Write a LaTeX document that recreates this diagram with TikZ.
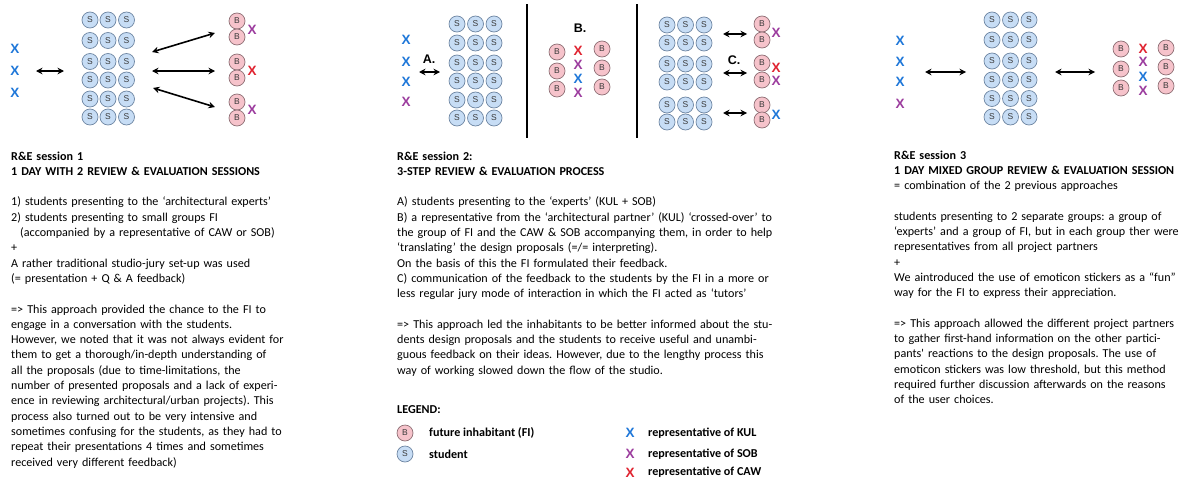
\documentclass[tikz,border=0pt]{standalone}
\usepackage{fontspec}
\setmainfont{Carlito}
\newfontfamily\glyphfont{Liberation Sans}
\usetikzlibrary{arrows.meta}

\definecolor{sfill}{HTML}{C7DDF5}
\definecolor{sline}{HTML}{6E86A3}
\definecolor{bfill}{HTML}{F6C3CB}
\definecolor{bline}{HTML}{8E6E74}
\definecolor{kul}{HTML}{1E77D9}
\definecolor{sob}{HTML}{9C3C9E}
\definecolor{caw}{HTML}{E02330}
\definecolor{letter}{HTML}{3A3A3A}

% a justified line of text, stretched to the column width \colw
\newlength\colw
\newcommand\jline[1]{\makebox[\colw][s]{#1}}

\tikzset{
  person/.style={circle, inner sep=0pt, minimum size=16pt, line width=0.7pt,
    font=\glyphfont\fontsize{8.5}{9}\selectfont, text=letter},
  stu/.style={person, draw=sline, fill=sfill},
  fi/.style={person, draw=bline, fill=bfill},
  rep/.style={inner sep=0pt, font=\glyphfont\bfseries\fontsize{13.5}{13.5}\selectfont},
  kulx/.style={rep, text=kul},
  sobx/.style={rep, text=sob},
  cawx/.style={rep, text=caw},
  steplabel/.style={inner sep=0pt, font=\glyphfont\bfseries\fontsize{12.5}{13}\selectfont},
  link/.style={{Stealth[length=6.5pt,width=6.5pt]}-{Stealth[length=6.5pt,width=6.5pt]}, line width=1.6pt},
  divider/.style={line width=1.8pt},
  body/.style={anchor=base west, inner sep=0pt, align=left, text width=420pt,
    font=\fontsize{12.1}{15.3}\selectfont\frenchspacing},
  legtext/.style={anchor=west, inner sep=0pt, font=\bfseries\fontsize{12.1}{15.3}\selectfont},
}

\begin{document}
\begin{tikzpicture}[x=1pt, y=-1pt]
\useasboundingbox (0,0) rectangle (1182,479);
\fill[white] (0,0) rectangle (1182,479);

% ---------- session 1: experts, then small FI groups ----------
\node[kulx] (a-x1) at (15,49) {X};
\node[kulx] (a-x2) at (15,71) {X};
\node[kulx] (a-x3) at (15,93) {X};
\foreach \c/\x in {1/90,2/108,3/126.5}
  \foreach \r/\y in {1/20,2/40.5,3/61.5,4/80,5/99,6/117}
    \node[stu] (a-s\r\c) at (\x,\y) {S};
\node[fi] (a-b1) at (237,21) {B};  \node[fi] (a-b2) at (237,37) {B};
\node[fi] (a-b3) at (237,62) {B};  \node[fi] (a-b4) at (237,78) {B};
\node[fi] (a-b5) at (237,102) {B}; \node[fi] (a-b6) at (237,118) {B};
\node[sobx] (a-r1) at (252,30) {X};
\node[cawx] (a-r2) at (252,71) {X};
\node[sobx] (a-r3) at (252,110) {X};
\coordinate (a-p1) at (36,71);  \coordinate (a-q1) at (64,71);
\coordinate (a-p2) at (152,52); \coordinate (a-q2) at (215,33);
\coordinate (a-p3) at (152,71); \coordinate (a-q3) at (215,71);
\coordinate (a-p4) at (153,88); \coordinate (a-q4) at (215,107);
\draw[link] (a-p1) -- (a-q1);
\draw[link] (a-p2) -- (a-q2);
\draw[link] (a-p3) -- (a-q3);
\draw[link] (a-p4) -- (a-q4);

% ---------- session 2: three steps A, B, C ----------
\node[kulx] (b-x1) at (406,40) {X};
\node[kulx] (b-x2) at (406,62) {X};
\node[kulx] (b-x3) at (406,82) {X};
\node[sobx] (b-x4) at (406,102) {X};
\node[steplabel] (b-la) at (429,59) {A.};
\coordinate (b-p1) at (419,72); \coordinate (b-q1) at (440,72);
\draw[link] (b-p1) -- (b-q1);
\foreach \c/\x in {1/457,2/475.5,3/494}
  \foreach \r/\y in {1/24,2/43,3/63,4/81,5/100,6/118}
    \node[stu] (b-s\r\c) at (\x,\y) {S};
\coordinate (b-d1t) at (527,4);  \coordinate (b-d1b) at (527,138);
\coordinate (b-d2t) at (637,4);  \coordinate (b-d2b) at (637,138);
\draw[divider] (b-d1t) -- (b-d1b);
\draw[divider] (b-d2t) -- (b-d2b);
\node[steplabel] (b-lb) at (580,28) {B.};
\node[fi] (b-b1) at (557,52) {B}; \node[fi] (b-b2) at (557,71) {B}; \node[fi] (b-b3) at (557,89) {B};
\node[fi] (b-b4) at (602,49) {B}; \node[fi] (b-b5) at (602,68) {B}; \node[fi] (b-b6) at (602,87) {B};
\node[cawx] (b-r1) at (578,51) {X};
\node[sobx] (b-r2) at (578,65) {X};
\node[kulx] (b-r3) at (578,79) {X};
\node[sobx] (b-r4) at (578,93) {X};
\foreach \c/\x in {1/667,2/685.5,3/704}
  \foreach \r/\y in {1/25,2/43,3/64,4/82,5/105,6/122}
    \node[stu] (c-s\r\c) at (\x,\y) {S};
\node[steplabel] (b-lc) at (734,60) {C.};
\coordinate (c-p1) at (723,34);  \coordinate (c-q1) at (747,34);
\coordinate (c-p2) at (723,73);  \coordinate (c-q2) at (747,73);
\coordinate (c-p3) at (723,113); \coordinate (c-q3) at (747,113);
\draw[link] (c-p1) -- (c-q1);
\draw[link] (c-p2) -- (c-q2);
\draw[link] (c-p3) -- (c-q3);
\node[fi] (c-b1) at (762,24) {B};  \node[fi] (c-b2) at (762,40) {B};
\node[fi] (c-b3) at (762,63) {B};  \node[fi] (c-b4) at (762,80) {B};
\node[fi] (c-b5) at (762,105) {B}; \node[fi] (c-b6) at (762,120) {B};
\node[sobx] (c-r1) at (776,33) {X};
\node[cawx] (c-r2) at (776,68) {X};
\node[sobx] (c-r3) at (776,81) {X};
\node[kulx] (c-r4) at (776,115) {X};

% ---------- session 3: mixed groups ----------
\node[kulx] (d-x1) at (900,41) {X};
\node[kulx] (d-x2) at (900,62) {X};
\node[kulx] (d-x3) at (900,82) {X};
\node[sobx] (d-x4) at (900,104) {X};
\coordinate (d-p1) at (925,72);  \coordinate (d-q1) at (966,72);
\coordinate (d-p2) at (1055,72); \coordinate (d-q2) at (1095,72);
\draw[link] (d-p1) -- (d-q1);
\draw[link] (d-p2) -- (d-q2);
\foreach \c/\x in {1/992,2/1010.5,3/1029}
  \foreach \r/\y in {1/20,2/40,3/61,4/80,5/98.5,6/117}
    \node[stu] (d-s\r\c) at (\x,\y) {S};
\node[fi] (d-b1) at (1121,49) {B};  \node[fi] (d-b2) at (1121,69) {B};  \node[fi] (d-b3) at (1121,88) {B};
\node[fi] (d-b4) at (1166,48) {B};  \node[fi] (d-b5) at (1166,67) {B};  \node[fi] (d-b6) at (1166,86) {B};
\node[cawx] (d-r1) at (1143,49) {X};
\node[sobx] (d-r2) at (1143,62) {X};
\node[kulx] (d-r3) at (1143,77) {X};
\node[sobx] (d-r4) at (1143,91) {X};

% ---------- descriptions ----------
\node[body] (t1) at (11,160) {\setlength\colw{267pt}%
\textbf{R\&E session 1}\\
\textbf{1 DAY WITH 2 REVIEW \& EVALUATION SESSIONS}\\[15.3pt]
1) students presenting to the ‘architectural experts’\\
2) students presenting to small groups FI\\
\hspace*{9pt}(accompanied by a representative of CAW or SOB)\\
+\\
A rather traditional studio-jury set-up was used\\
(= presentation + Q \& A feedback)\\[15.3pt]
\jline{=> This approach provided the chance to the FI to}\\
engage in a conversation with the students.\\
\jline{However, we noted that it was not always evident for}\\
\jline{them to get a thorough/in-depth understanding of}\\
\jline{all the proposals (due to time-limitations, the}\\
\jline{number of presented proposals and a lack of experi-}\\
\jline{ence in reviewing architectural/urban projects). This}\\
\jline{process also turned out to be very intensive and}\\
\jline{sometimes confusing for the students, as they had to}\\
\jline{repeat their presentations 4 times and sometimes}\\
received very different feedback)};

\node[body] (t2) at (397,160) {\setlength\colw{379pt}%
\textbf{R\&E session 2:}\\
\textbf{3-STEP REVIEW \& EVALUATION PROCESS}\\[15.3pt]
A) students presenting to the ‘experts’ (KUL + SOB)\\
\jline{B) a representative from the ‘architectural partner’ (KUL) ‘crossed-over’ to}\\
\jline{the group of FI and the CAW \& SOB accompanying them, in order to help}\\
‘translating’ the design proposals (=/= interpreting).\\
On the basis of this the FI formulated their feedback.\\
\jline{C) communication of the feedback to the students by the FI in a more or}\\
less regular jury mode of interaction in which the FI acted as ‘tutors’\\[15.3pt]
\jline{=> This approach led the inhabitants to be better informed about the stu-}\\
\jline{dents design proposals and the students to receive useful and unambi-}\\
\jline{guous feedback on their ideas. However, due to the lengthy process this}\\
way of working slowed down the flow of the studio.};

\node[body] (t3) at (894,159) {\setlength\colw{281pt}%
\textbf{R\&E session 3}\\
\textbf{1 DAY MIXED GROUP REVIEW \& EVALUATION SESSION}\\
= combination of the 2 previous approaches\\[15.3pt]
\jline{students presenting to 2 separate groups: a group of}\\
\jline{‘experts’ and a group of FI, but in each group ther were}\\
representatives from all project partners\\
+\\
\jline{We aintroduced the use of emoticon stickers as a “fun”}\\
way for the FI to express their appreciation.\\[15.3pt]
\jline{=> This approach allowed the different project partners}\\
\jline{to gather first-hand information on the other partici-}\\
\jline{pants\textquotesingle{} reactions to the design proposals. The use of}\\
\jline{emoticon stickers was low threshold, but this method}\\
\jline{required further discussion afterwards on the reasons}\\
of the user choices.};

% ---------- legend ----------
\node[body, font=\bfseries\fontsize{12.1}{15.3}\selectfont] (leg) at (397,413) {LEGEND:};
\node[fi] (leg-b) at (405,433) {B};
\node[stu] (leg-s) at (405,454) {S};
\node[legtext] (leg-bt) at (429,433) {future inhabitant (FI)};
\node[legtext] (leg-st) at (429,454) {student};
\node[kulx] (leg-k) at (630,433) {X};
\node[sobx] (leg-o) at (630,454) {X};
\node[cawx] (leg-c) at (630,472.5) {X};
\node[legtext] (leg-kt) at (648,433) {representative of KUL};
\node[legtext] (leg-ot) at (648,454) {representative of SOB};
\node[legtext] (leg-ct) at (648,472.5) {representative of CAW};
\end{tikzpicture}
\end{document}
